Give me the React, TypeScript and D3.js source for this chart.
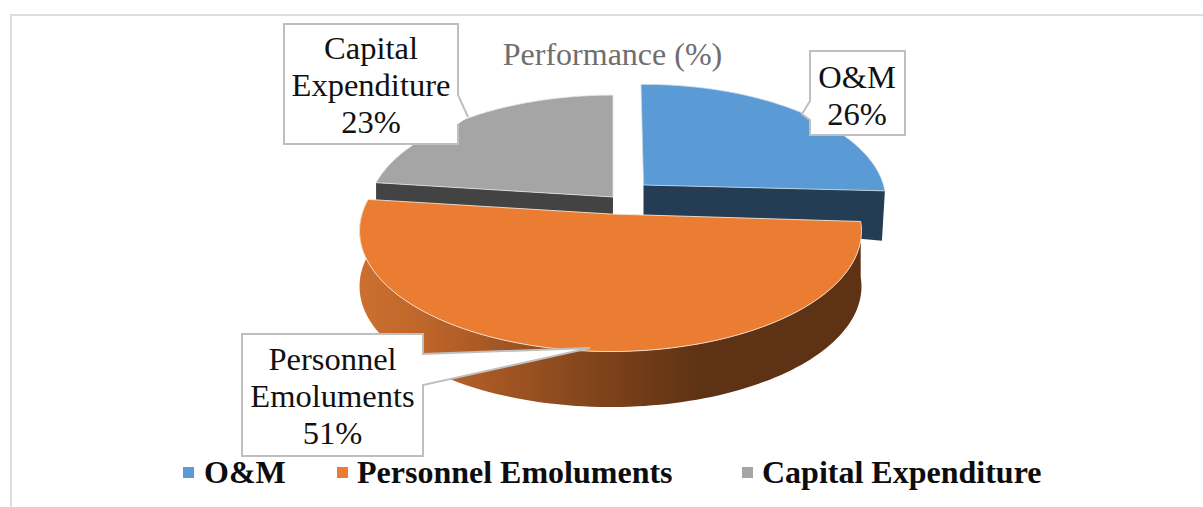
import React from "react";
import * as d3 from "d3";

const categories = ["O&M", "Personnel Emoluments", "Capital Expenditure"];
const shares = [26, 51, 23];
const topColors = ["#5b9bd5", "#ea7d31", "#a5a5a5"];
const wallColors = ["#243d55", "#5e3214", "#434343"];
const labelLines = [["O&M", "26%"], ["Personnel", "Emoluments", "51%"], ["Capital", "Expenditure", "23%"]];

const W = 1203, H = 507;
const PERSPECTIVE = 0.14;
const DEPTH = 55.5;

// Explosion of each slice: apex position, radius, tilt and small rotation
const sliceGeo = [
  { cx: 643.5, cy: 185, R: 240, tilt: 0.478, rot: -0.012 },
  { cx: 610.5, cy: 214, R: 248.5, tilt: 0.476, rot: 0 },
  { cx: 613, cy: 197, R: 243, tilt: 0.478, rot: 0 },
];

const boxes = [
  { x: 810, y: 51, w: 95, h: 84, wedge: [[810, 101], [802, 114], [810, 120]], textY: 88, lh: 37, cxt: 857 },
  { x: 242, y: 334, w: 181, h: 122, wedge: [[423, 354], [590, 348], [423, 385]], textY: 370, lh: 37, cxt: 332.5 },
  { x: 284, y: 24, w: 174, h: 120, wedge: [[458, 95], [468, 117], [458, 124]], textY: 59, lh: 37, cxt: 371 },
];

const legendX = [183, 337, 742];
const legendTextX = [204, 357, 762];
const SERIF = "'Liberation Serif', 'Times New Roman', serif";

const pie = d3.pie<number>().sort(null).value((d) => d);
const arcs = pie(shares);
const line = d3.line<[number, number]>();

function project(g: typeof sliceGeo[number], angle: number, drop = 0): [number, number] {
  const a = angle + g.rot;
  const s = 1 / (1 + PERSPECTIVE * Math.cos(a));
  const dy = -g.R * g.tilt * Math.cos(a) * s;
  const x = g.cx + g.R * Math.sin(a) * s;
  return [x, g.cy + dy + drop];
}

function rim(g: typeof sliceGeo[number], a0: number, a1: number, drop = 0): [number, number][] {
  const n = 120;
  return d3.range(n + 1).map((i) => project(g, a0 + ((a1 - a0) * i) / n, drop));
}

function boxFill(b: typeof boxes[number]) {
  const [p0, p1, p2] = b.wedge;
  const r = b.x + b.w, bt = b.y + b.h;
  if (p0[0] === b.x) {
    return `M${b.x},${b.y}H${r}V${bt}H${b.x}V${p2[1]}L${p1[0]},${p1[1]}L${p0[0]},${p0[1]}Z`;
  }
  return `M${b.x},${b.y}H${r}V${p0[1]}L${p1[0]},${p1[1]}L${p2[0]},${p2[1]}V${bt}H${b.x}Z`;
}

function boxStroke(b: typeof boxes[number], i: number) {
  const [p0, p1, p2] = b.wedge;
  const r = b.x + b.w, bt = b.y + b.h;
  if (i === 2) {
    // Capital label: lower wedge edge has no visible outline
    return `M${p1[0]},${p1[1]}L${p0[0]},${p0[1]}V${b.y}H${b.x}V${bt}H${r}V${p2[1]}`;
  }
  return boxFill(b);
}

export default function App() {
  const [om, pe, ce] = arcs;
  return (
    <svg
      width={W}
      height={H}
      viewBox={`0 0 ${W} ${H}`}
      style={{ position: "absolute", left: 0, top: 0, display: "block", background: "#fff" }}
    >
      <defs>
        <linearGradient id="orangeWall" gradientUnits="userSpaceOnUse" x1={359} x2={861} y1={0} y2={0}>
          <stop offset="0" stopColor="#cc7030" />
          <stop offset="0.12" stopColor="#c0662a" />
          <stop offset="0.45" stopColor="#84461c" />
          <stop offset="0.68" stopColor="#5e3214" />
          <stop offset="1" stopColor="#5e3214" />
        </linearGradient>
      </defs>

      <path d={`M10,15H${W}M11,15V${H}`} fill="none" stroke="#dedede" strokeWidth={2} />

      {/* Capital expenditure slice */}
      {(() => {
        const g = sliceGeo[2];
        const end = project(g, ce.startAngle);
        const top = rim(g, ce.startAngle, ce.endAngle);
        return (
          <g>
            <path
              d={line([[g.cx, g.cy], end, [end[0], end[1] + DEPTH], [g.cx, g.cy + DEPTH]])! + "Z"}
              fill={wallColors[2]}
            />
            <path d={line([[g.cx, g.cy], ...top])! + "Z"} fill={topColors[2]} stroke="#e4e4e4" strokeWidth={0.8} />
          </g>
        );
      })()}

      {/* O&M slice */}
      {(() => {
        const g = sliceGeo[0];
        const end = project(g, om.endAngle);
        const top = rim(g, om.startAngle, om.endAngle);
        return (
          <g>
            <path
              d={line([[g.cx, g.cy], end, [end[0] - 3, end[1] + 50], [g.cx, g.cy + 34]])! + "Z"}
              fill={wallColors[0]}
            />
            <path d={line([[g.cx, g.cy], ...top])! + "Z"} fill={topColors[0]} stroke="#cfdbe6" strokeWidth={0.8} />
          </g>
        );
      })()}

      {/* Personnel emoluments slice */}
      {(() => {
        const g = sliceGeo[1];
        const top = rim(g, pe.startAngle, pe.endAngle);
        const bottom = rim(g, pe.endAngle, pe.startAngle, DEPTH);
        return (
          <g>
            <path d={line([...top, ...bottom])! + "Z"} fill="url(#orangeWall)" />
            <path d={line([[g.cx, g.cy], ...top])! + "Z"} fill={topColors[1]} stroke="#f3e3d6" strokeWidth={0.9} />
          </g>
        );
      })()}

      <text x={612.5} y={65} textAnchor="middle" fontFamily={SERIF} fontSize={32} fill="#6e6e6e">
        Performance (%)
      </text>

      {boxes.map((b, i) => (
        <g key={categories[i]}>
          <path d={boxFill(b)} fill="#fff" stroke="none" />
          <path d={boxStroke(b, i)} fill="none" stroke="#bfbfbf" strokeWidth={2} />
          {labelLines[i].map((t, j) => (
            <text
              key={t}
              x={b.cxt}
              y={b.textY + j * b.lh}
              textAnchor="middle"
              fontFamily={SERIF}
              fontSize={32.5}
              fill="#111"
            >
              {t}
            </text>
          ))}
        </g>
      ))}

      {categories.map((c, i) => (
        <g key={c}>
          <rect x={legendX[i]} y={467} width={11} height={11} fill={topColors[i]} />
          <text x={legendTextX[i]} y={483} fontFamily={SERIF} fontWeight="bold" fontSize={32} fill="#0d0d0d">
            {c}
          </text>
        </g>
      ))}
    </svg>
  );
}
